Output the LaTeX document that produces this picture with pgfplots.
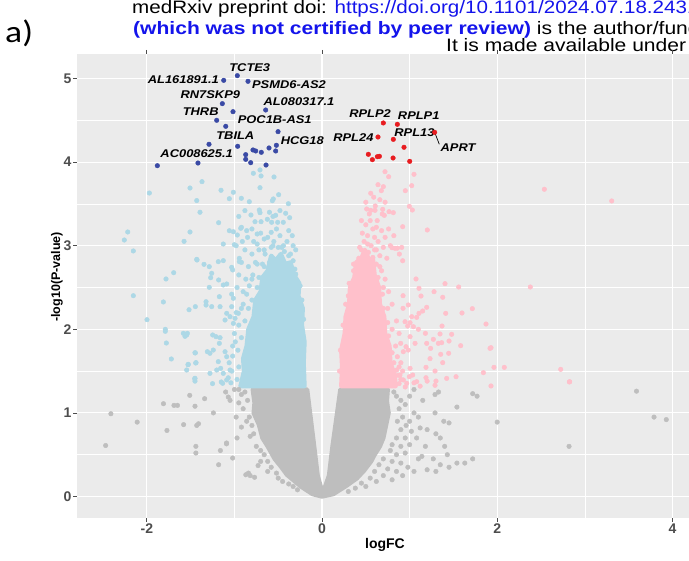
\documentclass[border=0pt]{standalone}
\usepackage{pgfplots}
\pgfplotsset{compat=1.18}
\usepackage{fontspec}
\setmainfont{Liberation Sans}
\newfontfamily\carlito{Carlito}
\definecolor{panelbg}{HTML}{EBEBEB}
\definecolor{gptc}{HTML}{BEBEBE}
\definecolor{lbc}{HTML}{ADD8E6}
\definecolor{pkc}{HTML}{FFC0CB}
\definecolor{dbc}{RGB}{58,74,165}
\definecolor{rdc}{RGB}{232,28,32}
\definecolor{tickc}{HTML}{4D4D4D}
\definecolor{linkc}{RGB}{20,20,235}
\newcommand{\hs}[1]{\scalebox{1.15}[1]{#1}}
\newcommand{\hh}[1]{\scalebox{1.17}[1]{#1}}
\begin{document}
\begin{tikzpicture}[x=1pt,y=1pt]
\useasboundingbox (0,0) rectangle (689,561);
\clip (0,0) rectangle (689,561);
% header
\node[anchor=base west,inner sep=0,font=\fontsize{18}{18}\selectfont] at (132,547) {\scalebox{1.145}[1]{medRxiv preprint doi: \textcolor{linkc}{https://doi.org/10.1101/2024.07.18.24310658}}};
\node[anchor=base west,inner sep=0,font=\fontsize{18}{18}\selectfont] at (133,526) {\hh{\textcolor{linkc}{\bfseries (which was not certified by peer review)} is the author/funder, who has granted medRxiv}};
\node[anchor=base west,inner sep=0,font=\fontsize{18}{18}\selectfont] at (446,509) {\hh{It is made available under a CC-BY-NC 4.0 International license}};
\node[anchor=base west,inner sep=0,font=\carlito\fontsize{31}{31}\selectfont] at (5,518) {\hs{a)}};
\begin{axis}[
  at={(77pt,43pt)}, anchor=south west,
  width=616pt, height=464pt, scale only axis,
  xmin=-2.797, xmax=4.235, ymin=-0.257, ymax=5.293,
  axis background/.style={fill=panelbg},
  axis line style={draw=none},
  grid=both,
  major grid style={white, line width=1.1pt},
  minor grid style={white, line width=0.55pt},
  xtick={-2,0,2,4}, xticklabels={-2,0,2,4},
  minor xtick={-1,1,3},
  ytick={0,1,2,3,4,5}, yticklabels={0,1,2,3,4,5},
  minor ytick={0.5,1.5,2.5,3.5,4.5},
  tick align=outside,
  major tick length=4pt, minor tick length=0pt,
  tick style={color=tickc, line width=0.8pt},
  ticklabel style={font=\bfseries\fontsize{14}{14}\selectfont, text=tickc},
  yticklabel style={inner sep=1.5pt},
  xticklabel style={inner sep=2pt},
  clip=true,
]
% ---- gray core
\addplot[fill=gptc, draw=gptc, line width=4.4pt, line join=round, mark=none] coordinates {
(-0.79,1.28) (-0.77,1.12) (-0.78,1.0) (-0.72,0.86) (-0.68,0.7) (-0.62,0.6) (-0.54,0.45) (-0.47,0.36) (-0.40,0.26) (-0.24,0.12) (-0.11,0.03) (0,0.0) (0.13,0.03) (0.28,0.13) (0.40,0.22) (0.48,0.31) (0.56,0.42) (0.60,0.5) (0.66,0.6) (0.70,0.7) (0.73,0.85) (0.76,1.0) (0.74,1.14) (0.75,1.28) (0.21,1.28) (0.12,0.6) (0.08,0.25) (0.03,0.1) (-0.01,0.1) (-0.05,0.25) (-0.09,0.6) (-0.17,1.28)
} -- cycle;
% ---- gray scattered
\addplot[only marks, mark=*, mark size=2.3pt, color=gptc] coordinates {
(-2.47,0.61) (-2.41,0.99) (-2.11,0.89) (-1.81,1.11) (-1.77,0.79) (-1.69,1.09) (-1.65,1.09) (-1.58,0.86) (-1.51,1.21) (-1.45,1.08) (-1.43,0.85) (-1.41,0.87) (-1.44,0.60) (-1.44,0.52) (-1.34,1.17) (-1.24,1.0) (-1.18,0.38) (-1.16,0.55) (-1.09,0.64) (-1.09,0.63) (-1.02,0.46) (-1.07,1.19) (-0.97,0.70) (-0.92,0.83) (-0.87,0.26) (-0.84,0.28) (-0.82,0.25) (-0.77,0.23) (-0.73,0.37)
(-0.88,1.25) (-0.92,1.22) (-0.85,1.15) (-0.90,1.05) (-0.83,0.95) (-0.86,0.9) (-0.8,0.85) (-0.78,0.75) (-0.82,0.72) (-0.75,0.6) (-0.7,0.55) (-0.66,0.5) (-0.62,0.42) (-0.7,0.42) (-0.58,0.35) (-0.62,0.3) (-0.52,0.28) (-0.5,0.22) (-0.45,0.18) (-0.38,0.15) (-0.33,0.12) (-0.28,0.08) (-0.95,1.12) (-0.98,0.95) (-1.0,1.28) (-0.95,1.28) (-1.05,1.15) (-1.1,1.25)
(1.72,1.23) (1.77,1.2) (1.54,1.07) (1.29,1.22) (1.33,1.25) (1.0,0.9) (1.29,1.0) (1.2,0.8) (1.39,0.9) (1.45,0.88) (1.05,0.3) (1.1,0.45) (1.3,0.75) (1.35,0.7) (1.14,0.48) (1.2,0.32) (1.3,0.3) (1.27,0.45) (1.4,0.6) (1.43,0.5) (1.54,0.4) (1.63,0.4) (1.72,0.45) (1.45,0.35) (1.35,0.38) (2.0,0.89) (2.82,0.6) (3.59,1.26) (3.79,0.95) (3.93,0.92)
(0.82,1.25) (0.85,1.2) (0.9,1.15) (0.88,1.05) (0.95,1.1) (0.92,0.95) (0.86,0.9) (0.96,0.85) (0.9,0.8) (1.02,0.78) (0.85,0.7) (0.95,0.7) (0.8,0.62) (0.9,0.6) (1.0,0.62) (0.78,0.55) (0.85,0.5) (0.95,0.52) (0.7,0.45) (0.8,0.42) (0.9,0.4) (0.65,0.38) (0.75,0.33) (0.85,0.3) (0.6,0.3) (0.7,0.25) (0.8,0.2) (0.55,0.22) (0.62,0.18) (0.45,0.16) (0.5,0.12) (0.38,0.1) (0.3,0.06) (1.05,1.0) (1.1,0.95) (1.12,0.82) (1.08,0.7) (1.18,0.6) (1.0,1.2) (1.05,1.28) (1.15,1.15) (0.98,0.35) (0.92,0.25)
};
% ---- light blue core
\addplot[fill=lbc, draw=lbc, line width=4.4pt, line join=round, mark=none] coordinates {
(-0.20,1.32) (-0.21,1.6) (-0.20,1.85) (-0.23,2.05) (-0.22,2.25) (-0.27,2.4) (-0.26,2.55) (-0.32,2.65) (-0.36,2.8) (-0.42,2.78) (-0.47,2.9) (-0.53,2.82) (-0.58,2.88) (-0.62,2.7) (-0.68,2.62) (-0.70,2.45) (-0.76,2.35) (-0.78,2.15) (-0.84,2.0) (-0.86,1.8) (-0.90,1.65) (-0.89,1.5) (-0.93,1.32)
} -- cycle;
\addplot[only marks, mark=*, mark size=2.3pt, color=lbc] coordinates {
(-1.971,3.63) (-1.507,3.69) (-1.43,3.54) (-1.393,3.40) (-2.218,3.164) (-2.257,3.068) (-1.507,3.164) (-1.575,3.052) (-2.154,2.937) (-1.427,2.829) (-1.693,2.677) (-1.781,2.602) (-2.154,2.402) (-1.811,2.327) (-1.518,2.234) (-1.446,2.271) (-1.998,2.115) (-1.789,2.0) (-1.789,1.976) (-1.537,1.952) (-1.564,1.916) (-1.777,1.836) (-1.446,1.717) (-1.720,1.645) (-1.442,1.597) (-1.530,1.577) (-1.453,1.409)
(-0.784,3.866) (-0.708,3.906) (-0.696,3.834) (-0.548,3.822) (-1.370,3.766) (-1.153,3.663) (-1.012,3.639) (-1.058,3.562) (-0.921,3.567) (-0.830,3.526) (-0.708,3.694) (-0.567,3.538) (-0.556,3.559) (-0.495,3.610) (-0.384,3.502) (-0.811,3.367) (-0.716,3.427) (-0.708,3.395) (-0.765,3.287) (-0.696,3.287) (-0.624,3.316) (-0.529,3.364) (-0.415,3.388) (-0.369,3.335) (-1.180,3.275) (-0.575,3.28) (-0.506,3.28) (-0.442,3.28) (-1.058,3.179) (-1.012,3.167) (-0.928,3.208) (-0.967,3.128) (-1.127,3.020) (-1.001,3.012)
(-0.85,3.1) (-0.78,3.05) (-0.7,3.15) (-0.62,3.1) (-0.55,3.05) (-0.48,3.12) (-0.4,3.05) (-0.33,3.0) (-0.88,2.95) (-0.8,2.9) (-0.72,2.95) (-0.65,2.9) (-0.58,2.98) (-0.5,2.98) (-0.43,2.93) (-0.36,2.9) (-0.92,2.8) (-0.84,2.75) (-0.76,2.8) (-0.68,2.78) (-0.6,2.8) (-0.45,2.78) (-0.31,2.72) (-0.95,2.65) (-0.87,2.6) (-0.79,2.65) (-0.29,2.55) (-0.97,2.5) (-0.9,2.45) (-0.83,2.52) (-0.27,2.45) (-0.25,2.35)
(-0.98,3.0) (-0.91,3.05) (-0.74,3.02) (-0.66,3.08) (-0.44,3.0) (-0.3,2.95) (-0.92,3.22) (-0.86,3.18) (-0.8,3.2) (-0.74,3.14) (-0.58,3.16) (-0.52,3.2) (-0.38,3.18) (-0.34,3.12) (-0.95,3.35) (-0.88,3.42) (-0.6,3.4) (-0.48,3.42) (-0.56,3.35)
(-1.04,1.36) (-1.03,1.5) (-1.02,1.68) (-0.99,1.85) (-0.95,2.05) (-0.92,2.25) (-0.86,2.42) (-0.8,2.6) (-0.74,2.78) (-0.66,2.95) (-0.56,3.0) (-0.46,2.98) (-0.38,2.88) (-0.33,2.82) (-0.3,2.66) (-0.25,2.52) (-0.23,2.35) (-0.21,2.12)
(-0.97,1.4) (-0.95,1.55) (-0.96,1.75) (-0.92,1.9) (-0.88,2.1) (-0.84,2.25) (-0.8,2.35) (-0.74,2.5) (-0.72,2.62) (-0.66,2.75) (-0.4,2.7) (-0.36,2.62) (-0.32,2.55) (-0.3,2.42) (-0.26,2.3) (-0.26,2.15) (-0.25,1.98)
(-1.324,2.33) (-1.324,2.29) (-1.259,2.271) (-1.164,2.271) (-1.172,2.39) (-1.031,2.271) (-1.012,2.371) (-1.127,2.53) (-1.088,2.542) (-1.031,2.42) (-1.287,2.502) (-1.180,2.59) (-1.271,2.617) (-1.259,2.67) (-1.287,2.749) (-1.347,2.777) (-1.43,2.837) (-1.184,2.809) (-1.127,2.821) (-1.031,2.741) (-1.02,2.71) (-0.944,2.849) (-0.944,2.809)
(-1.583,1.952) (-1.545,1.932) (-1.248,1.932) (-1.210,1.912) (-1.164,1.90) (-1.45,1.72) (-1.309,1.732) (-1.279,1.713) (-1.526,1.581) (-1.438,1.601) (-1.172,1.832) (-1.241,1.752) (-1.107,1.732) (-1.088,1.672) (-1.184,1.613) (-1.157,1.533) (-1.127,1.473) (-1.05,1.513) (-1.088,1.394) (-1.134,1.354) (-1.202,1.513) (-1.279,1.473) (-1.450,1.414) (-1.545,1.513) (-1.107,2.111) (-1.05,2.151) (-0.993,2.131) (-0.955,2.191) (-1.088,2.191) (-1.012,2.071)
(-1.0,1.95) (-0.98,2.2) (-0.9,2.3) (-1.02,1.8) (-1.06,1.6) (-1.07,1.42)
(-1.45,1.38) (-1.25,1.35) (-1.15,1.37)
};
% ---- pink core
\addplot[fill=pkc, draw=pkc, line width=4.4pt, line join=round, mark=none] coordinates {
(0.22,1.32) (0.23,1.55) (0.22,1.75) (0.26,1.95) (0.27,2.15) (0.31,2.3) (0.32,2.5) (0.37,2.62) (0.39,2.8) (0.45,2.85) (0.49,2.95) (0.54,2.82) (0.58,2.85) (0.6,2.65) (0.65,2.5) (0.66,2.3) (0.71,2.15) (0.72,1.95) (0.77,1.8) (0.78,1.6) (0.83,1.45) (0.84,1.32)
} -- cycle;
\addplot[only marks, mark=*, mark size=2.3pt, color=pkc] coordinates {
(0.719,3.885) (0.761,3.825) (1.050,3.854) (0.639,3.730) (0.700,3.706) (0.677,3.658) (0.556,3.627) (1.024,3.718) (0.951,3.658) (0.510,3.439) (0.556,3.423) (0.608,3.475) (0.605,3.423) (0.693,3.435) (0.688,3.379) (0.711,3.363) (0.765,3.407) (0.814,3.395) (0.997,3.471) (1.031,3.427) (0.921,3.227) (1.202,3.188)
(0.55,3.3) (0.5,3.25) (0.58,3.2) (0.62,3.22) (0.68,3.18) (0.52,3.12) (0.6,3.1) (0.48,3.05) (0.56,3.0) (0.64,3.05) (0.72,3.1) (0.45,2.95) (0.53,2.92) (0.62,2.95) (0.7,2.98) (0.78,3.0) (0.86,2.97) (0.42,2.85) (0.5,2.82) (0.58,2.86) (0.66,2.88) (0.74,2.85)
(0.46,3.15) (0.54,3.38) (0.63,3.3) (0.66,3.55) (0.59,3.58) (0.76,3.2) (0.82,3.12) (0.72,3.52) (0.5,3.52) (0.45,3.3)
(0.2,1.5) (0.21,1.75) (0.24,2.05) (0.27,2.3) (0.31,2.55) (0.36,2.78) (0.43,2.98) (0.52,3.02) (0.6,2.95) (0.66,2.75) (0.7,2.5) (0.75,2.25) (0.8,2.0) (0.84,1.8) (0.88,1.55) (0.9,1.4)
(0.26,1.6) (0.29,1.85) (0.31,2.08) (0.35,2.2) (0.36,2.42) (0.41,2.58) (0.62,2.78) (0.64,2.62) (0.69,2.42) (0.7,2.25) (0.75,2.08) (0.76,1.92) (0.8,1.72) (0.82,1.6) (0.87,1.45)
(0.91,2.98) (0.921,2.82) (0.883,2.90) (0.799,2.976) (0.833,2.969)
(1.073,2.602) (1.107,2.490) (1.130,2.398) (1.279,2.450) (1.378,2.383) (1.404,2.546) (1.560,2.506) (1.716,2.247) (1.598,2.195) (1.412,2.191) (1.195,2.263) (1.149,2.219) (1.107,2.191) (1.081,2.143) (0.925,2.402) (0.985,2.291) (0.925,2.251) (0.948,2.091) (1.005,2.079) (0.978,2.039) (1.370,2.039) (1.872,2.063)
(1.180,1.952) (1.195,1.832) (1.271,1.880) (1.328,1.832) (1.366,1.840) (1.347,1.944) (1.48,1.940) (1.450,1.860) (1.583,1.804)
(1.240,1.772) (1.355,1.701) (1.446,1.713) (1.233,1.649) (1.378,1.601) (1.290,1.501) (1.187,1.545) (1.301,1.381) (1.423,1.413) (1.530,1.433) (1.187,1.421) (1.842,1.481) (1.918,1.772)
(1.005,1.533) (0.997,1.433) (1.035,1.453) (1.081,1.373) (0.967,1.354) (0.928,1.394)
(0.86,1.672) (0.898,1.832) (0.928,1.732) (0.959,1.792) (0.985,1.752) (1.062,1.832) (1.005,1.912) (1.043,2.031) (1.100,2.0) (1.024,2.151)
(0.852,1.513) (0.890,1.453) (0.814,1.394) (0.776,1.474)
(2.538,3.675) (3.307,3.535) (2.378,2.506) (1.929,1.780) (1.963,1.545) (2.081,1.545) (2.725,1.521) (2.827,1.373) (1.929,1.322) (2.824,1.37)
(0.8,2.3) (0.76,2.45) (0.72,2.6) (0.68,2.7) (0.36,2.7) (0.33,2.55) (0.3,2.4) (0.85,2.1) (0.88,1.95) (0.9,1.6) (0.92,1.5) (0.88,1.35) (0.95,1.31)
(1.05,1.36) (1.12,1.32) (1.2,1.38) (1.29,1.33)
};
% ---- dark blue (down, significant)
\addplot[only marks, mark=*, mark size=2.3pt, color=dbc] coordinates {
(-1.122,4.978) (-0.967,5.034) (-0.845,4.966) (-1.138,4.699) (-1.016,4.603) (-0.643,4.623) (-1.202,4.50) (-1.099,4.428) (-0.502,4.364) (-1.290,4.213) (-0.963,4.189) (-0.788,4.145) (-0.757,4.133) (-0.693,4.117) (-0.605,4.169) (-0.521,4.201) (-0.529,4.133) (-0.871,4.089) (-0.871,4.033) (-0.814,3.993) (-0.639,3.965) (-1.416,3.989) (-1.880,3.957)
};
% ---- red (up, significant)
\addplot[only marks, mark=*, mark size=2.3pt, color=rdc] coordinates {
(0.700,4.468) (0.860,4.452) (1.286,4.356) (0.639,4.300) (0.814,4.272) (0.936,4.177) (0.529,4.093) (0.575,4.029) (0.632,4.065) (0.655,4.069) (0.811,4.049) (1.001,4.009)
};
\draw[black, line width=0.7pt] (axis cs:1.29,4.345) -- (axis cs:1.339,4.213);
\begin{scope}[every node/.style={font=\bfseries\itshape\fontsize{11.2}{11.2}\selectfont, inner sep=0pt}]
\node at (axis cs:-0.825,5.134) {\hs{TCTE3}};
\node at (axis cs:-1.583,4.99) {\hs{AL161891.1}};
\node at (axis cs:-0.377,4.926) {\hs{PSMD6-AS2}};
\node at (axis cs:-1.275,4.803) {\hs{RN7SKP9}};
\node at (axis cs:-0.263,4.723) {\hs{AL080317.1}};
\node at (axis cs:-1.385,4.599) {\hs{THRB}};
\node at (axis cs:-0.540,4.507) {\hs{POC1B-AS1}};
\node at (axis cs:-0.990,4.316) {\hs{TBILA}};
\node at (axis cs:-0.225,4.261) {\hs{HCG18}};
\node at (axis cs:-1.431,4.101) {\hs{AC008625.1}};
\node at (axis cs:0.548,4.575) {\hs{RPLP2}};
\node at (axis cs:1.104,4.560) {\hs{RPLP1}};
\node at (axis cs:0.358,4.292) {\hs{RPL24}};
\node at (axis cs:1.055,4.347) {\hs{RPL13}};
\node at (axis cs:1.553,4.169) {\hs{APRT}};
\end{scope}
\end{axis}
\node[font=\bfseries\fontsize{14}{14}\selectfont] at (385,16) {logFC};
\node[font=\bfseries\fontsize{12.5}{12.5}\selectfont, rotate=90] at (57,284) {-log10(P-value)};
\end{tikzpicture}
\end{document}
